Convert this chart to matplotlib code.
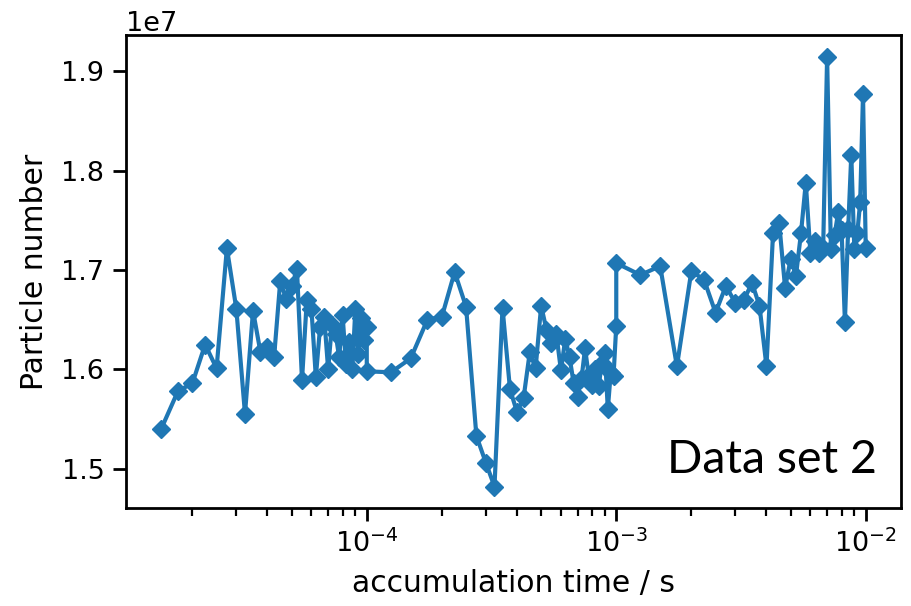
import numpy as np
import matplotlib
matplotlib.use("Agg")
import matplotlib.pyplot as plt

# accumulation times: mantissas per decade (first decade starts at 1.5)
MANT_E5 = [1.5, 1.75, 2.0, 2.25, 2.5, 2.75, 3.0, 3.25, 3.5, 3.75,
           4.0, 4.25, 4.5, 4.75, 5.0, 5.25, 5.5, 5.75, 6.0, 6.25,
           6.5, 6.75, 7.0, 7.25, 7.5, 7.75, 8.0, 8.25, 8.5, 8.75,
           9.0, 9.25, 9.5, 9.75, 10.0]
MANT_FULL = [1.0, 1.25, 1.5, 1.75, 2.0, 2.25, 2.5, 2.75, 3.0, 3.25,
             3.5, 3.75, 4.0, 4.25, 4.5, 4.75, 5.0, 5.25, 5.5, 5.75,
             6.0, 6.25, 6.5, 6.75, 7.0, 7.25, 7.5, 7.75, 8.0, 8.25,
             8.5, 8.75, 9.0, 9.25, 9.5, 9.75, 10.0]

# particle number (x 1e7) for each decade scan
N_E5 = [1.540, 1.578, 1.586, 1.625, 1.601, 1.722, 1.661, 1.555, 1.659, 1.617,
        1.622, 1.612, 1.689, 1.671, 1.684, 1.701, 1.589, 1.670, 1.661, 1.592,
        1.643, 1.653, 1.600, 1.645, 1.636, 1.612, 1.655, 1.605, 1.628, 1.600,
        1.661, 1.615, 1.652, 1.630, 1.643]
N_E4 = [1.598, 1.597, 1.611, 1.650, 1.653, 1.698, 1.663, 1.533, 1.506, 1.482,
        1.662, 1.580, 1.557, 1.571, 1.617, 1.601, 1.664, 1.640, 1.627, 1.636,
        1.599, 1.631, 1.612, 1.586, 1.572, 1.590, 1.621, 1.594, 1.584, 1.600,
        1.583, 1.606, 1.616, 1.560, 1.596, 1.593, 1.644]
N_E3 = [1.707, 1.695, 1.704, 1.603, 1.699, 1.690, 1.657, 1.684, 1.667, 1.670,
        1.687, 1.664, 1.603, 1.737, 1.747, 1.682, 1.711, 1.694, 1.737, 1.788,
        1.717, 1.729, 1.717, 1.722, 1.915, 1.721, 1.735, 1.758, 1.740, 1.648,
        1.741, 1.816, 1.721, 1.737, 1.769, 1.877, 1.722]

t = np.concatenate([np.array(MANT_E5) * 1e-5,
                    np.array(MANT_FULL) * 1e-4,
                    np.array(MANT_FULL) * 1e-3])
n = np.concatenate([N_E5, N_E4, N_E3]) * 1e7

plt.rcParams.update({
    "font.family": "DejaVu Sans",
    "axes.linewidth": 2.0,
    "xtick.major.size": 9.5,
    "xtick.minor.size": 5.5,
    "ytick.major.size": 9.5,
    "xtick.major.width": 2.0,
    "xtick.minor.width": 1.6,
    "ytick.major.width": 2.0,
    "xtick.major.pad": 6,
    "xtick.minor.pad": 6,
    "ytick.major.pad": 6,
    "xtick.labelsize": 19.5,
    "ytick.labelsize": 19.5,
    "axes.labelsize": 21.5,
})

fig = plt.figure(figsize=(9.11, 6.06), dpi=100)
ax = fig.add_axes([0.1383, 0.1617, 0.8507, 0.7805])

ax.plot(t, n, marker="D", markersize=9.5, linewidth=3.0, color="#1f77b4")
ax.set_xscale("log")

ax.set_xlabel("accumulation time / s", labelpad=8)
ax.set_ylabel("Particle number", labelpad=9)
ax.yaxis.get_offset_text().set_fontsize(19.5)

fig.text(0.732, 0.2195, "Data set 2", fontsize=33.5, family="Lato",
         va="baseline", ha="left", color="black")

fig.savefig("out.png", dpi=100)
